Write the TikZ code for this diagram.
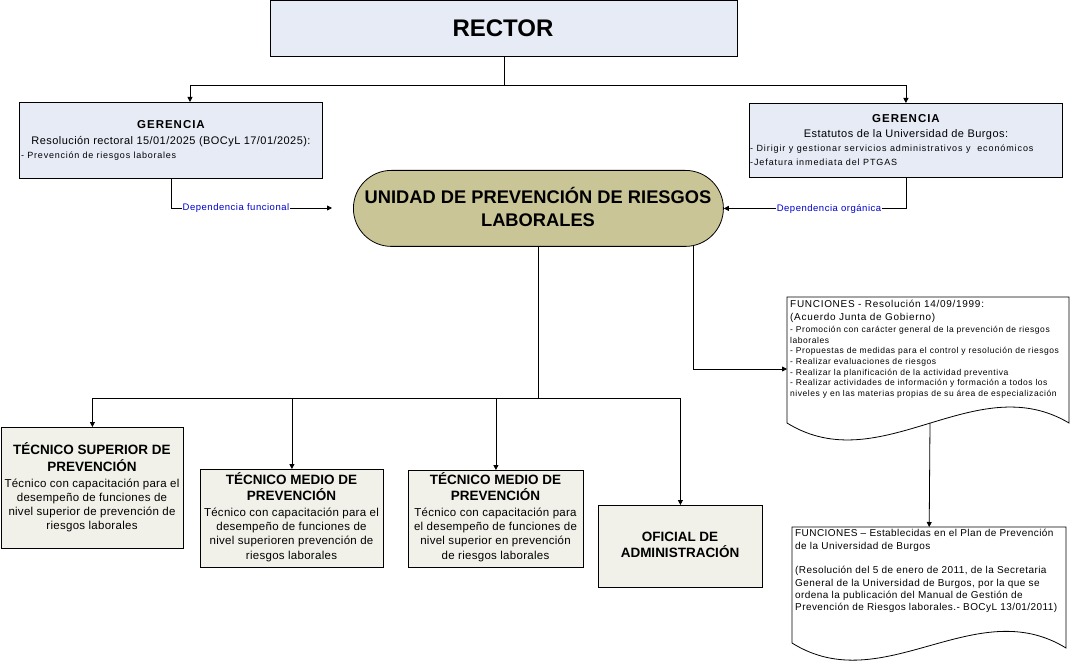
\documentclass[tikz,border=0pt]{standalone}
\usepackage{fontspec}
\setmainfont{Liberation Sans}
\usetikzlibrary{arrows.meta}
\definecolor{bluebox}{HTML}{E6EBF6}
\definecolor{khaki}{HTML}{C9C597}
\definecolor{greybox}{HTML}{F1F1E9}
\definecolor{deplabel}{HTML}{0000CC}
\newcommand\fsz[2]{\fontsize{#1}{#2}\selectfont}
\newcommand\lsp[1]{\addfontfeature{LetterSpace=#1}}
\begin{document}
\begin{tikzpicture}[x=1pt,y=-1pt,
  box/.style={draw=black, line width=0.8pt, anchor=north west, inner sep=0pt},
  conn/.style={line width=0.8pt, -{Triangle[length=5pt,width=5pt]}},
  plain/.style={line width=0.8pt},
  txt/.style={inner sep=0pt, anchor=base},
  ltxt/.style={inner sep=0pt, anchor=base west, align=left},
  dep/.style={inner sep=1pt, fill=white, anchor=base, text=deplabel, font=\fsz{9.5}{11}\lsp{5.5}},
  doc/.style={draw=black, line width=0.8pt, fill=white},
]
\useasboundingbox (0,0) rectangle (1071,668);
\fill[white] (0,0) rectangle (1071,668);

% boxes
\node[box, fill=bluebox, minimum width=467pt, minimum height=56pt] (rector) at (270,0) {};
\node[box, fill=bluebox, minimum width=303pt, minimum height=76pt] (gl) at (19,102) {};
\node[box, fill=bluebox, minimum width=313pt, minimum height=74pt] (gr) at (749,103) {};
\node[box, fill=khaki, rounded corners=38pt, minimum width=370pt, minimum height=76pt] (unidad) at (353,170) {};
\node[box, fill=greybox, minimum width=182pt, minimum height=121pt] (ts) at (1,427) {};
\node[box, fill=greybox, minimum width=183pt, minimum height=98pt] (tm1) at (200,469) {};
\node[box, fill=greybox, minimum width=175pt, minimum height=97pt] (tm2) at (408,470) {};
\node[box, fill=greybox, minimum width=164pt, minimum height=82pt] (of) at (598,505) {};

% document shapes
\node[inner sep=0pt, anchor=north west, minimum width=282pt, minimum height=126pt] (f1) at (787,297) {};
\draw[doc] (787,297) -- (1069,297) -- (1069,423) .. controls (975,367) and (881,481) .. (787,423) -- cycle;
\node[inner sep=0pt, anchor=north west, minimum width=274pt, minimum height=120pt] (f2) at (792,527) {};
\draw[doc] (792,527) -- (1066,527) -- (1066,648) .. controls (975,592) and (883,700) .. (792,643) -- cycle;

% coordinates
\coordinate (glin) at (190,102);
\coordinate (depF) at (332,208);
\coordinate (uf) at (693,245);
\coordinate (f1in) at (787,369);
\coordinate (f1out) at (930,423);

% connectors
\draw[plain] (rector.south) -- ++(0,29) coordinate (hub);
\draw[conn] (hub) -| (glin);
\draw[conn] (hub) -| (gr.north);
\draw[conn] (gl.south) |- (depF);
\draw[conn] (gr.south) |- (unidad.east);
\draw[plain] (unidad.south) -- ++(0,152) coordinate (ub);
\draw[conn] (ub) -| (ts.north);
\draw[conn] (ub) -| (tm1.north);
\draw[conn] (ub) -| (tm2.north);
\draw[conn] (ub) -| (of.north);
\draw[conn] (uf) |- (f1in);
\draw[conn] (f1out) -- (f2.north);

% labels on connectors
\node[dep] (depFl) at (236,211) {Dependencia funcional};
\node[dep] (depOl) at (829,211.5) {Dependencia orgánica};

% texts (multi-line nodes: base = baseline of last line)
\node[txt, font=\bfseries\fsz{24}{28}] (rectorT) at (503,36.6) {RECTOR};

\node[txt, font=\bfseries\fsz{11.5}{13}\lsp{8.5}] (glT) at (171,129) {GERENCIA};
\node[txt, font=\fsz{11}{13}\lsp{4}] (glS) at (171,145) {Resolución rectoral 15/01/2025 (BOCyL 17/01/2025):};
\node[ltxt, font=\fsz{9}{11}\lsp{8.5}] (glB) at (21,158.5) {- Prevención de riesgos laborales};

\node[txt, font=\bfseries\fsz{11.5}{13}\lsp{8.5}] (grT) at (906,123) {GERENCIA};
\node[txt, font=\fsz{11}{13}\lsp{4}] (grS) at (906,138) {Estatutos de la Universidad de Burgos:};
\node[ltxt, font=\fsz{9}{14}\lsp{10}] (grB) at (750,165.5) {- Dirigir y gestionar servicios administrativos y\ \ económicos\\-Jefatura inmediata del PTGAS};

\node[txt, align=center, font=\bfseries\fsz{18.3}{23}] (unidadT) at (538,226.6) {UNIDAD DE PREVENCIÓN DE RIESGOS\\LABORALES};

\node[txt, align=center, font=\bfseries\fsz{13.5}{17}] (tsT) at (92,471.8) {TÉCNICO SUPERIOR DE\\PREVENCIÓN};
\node[txt, align=center, font=\fsz{11.5}{14}\lsp{2.4}] (tsB) at (92,529) {Técnico con capacitación para el\\desempeño de funciones de\\nivel superior de prevención de\\riesgos laborales};

\node[txt, align=center, font=\bfseries\fsz{13.5}{16}] (tm1T) at (291.5,500.8) {TÉCNICO MEDIO DE\\PREVENCIÓN};
\node[txt, align=center, font=\fsz{11.5}{14.3}\lsp{2.4}] (tm1B) at (291.5,559) {Técnico con capacitación para el\\desempeño de funciones de\\nivel superioren prevención de\\riesgos laborales};

\node[txt, align=center, font=\bfseries\fsz{13.5}{16}] (tm2T) at (495.5,500.8) {TÉCNICO MEDIO DE\\PREVENCIÓN};
\node[txt, align=center, font=\fsz{11.5}{14.3}\lsp{2.4}] (tm2B) at (495.5,559) {Técnico con capacitación para\\el desempeño de funciones de\\nivel superior en prevención\\de riesgos laborales};

\node[txt, align=center, font=\bfseries\fsz{13.5}{16}] (ofT) at (680,557.8) {OFICIAL DE\\ADMINISTRACIÓN};

\node[ltxt, font=\fsz{8.5}{10.7}\lsp{6.5}] (f1T) at (790,396.5) {{\fsz{10}{13}\lsp{7}FUNCIONES - Resolución 14/09/1999:}\\[2.3pt]{\fsz{10}{13}\lsp{7}(Acuerdo Junta de Gobierno)}\\[1.3pt]- Promoción con carácter general de la prevención de riesgos\\laborales\\- Propuestas de medidas para el control y resolución de riesgos\\- Realizar evaluaciones de riesgos\\- Realizar la planificación de la actividad preventiva\\- Realizar actividades de información y formación a todos los\\niveles y en las materias propias de su área de especialización};

\node[ltxt, font=\fsz{10}{12.3}\lsp{4.3}] (f2T) at (795,610.6) {FUNCIONES – Establecidas en el Plan de Prevención\\de la Universidad de Burgos\\[12.3pt](Resolución del 5 de enero de 2011, de la Secretaria\\General de la Universidad de Burgos, por la que se\\ordena la publicación del Manual de Gestión de\\Prevención de Riesgos laborales.- BOCyL 13/01/2011)};
\end{tikzpicture}
\end{document}
